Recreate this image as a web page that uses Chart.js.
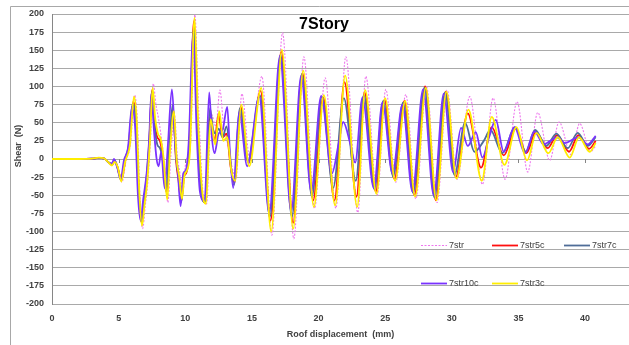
<!DOCTYPE html>
<html>
<head>
<meta charset="utf-8">
<script src="https://cdn.jsdelivr.net/npm/chart.js@4.4.1/dist/chart.umd.min.js"></script>
<style>
  html, body { margin: 0; padding: 0; background: #fff; }
  #wrap { position: relative; width: 629px; height: 345px; }
</style>
</head>
<body>
<div id="wrap"><canvas id="shear_chart" width="629" height="345"></canvas></div>
<script>
// series values, [roof displacement (mm), shear (N)]
const s7str = [[0,0],[1,0],[2,0],[3,0.5],[3.5,2],[3.9,1],[4.2,-4],[4.5,-9],[4.7,-4],[4.95,-12],[5.25,-32],[5.55,-3],[5.9,22],[6.2,88],[6.4,55],[6.6,-50],[6.8,-96],[7.0,-65],[7.2,-30],[7.4,30],[7.6,104],[7.8,75],[8.0,55],[8.2,30],[8.4,0],[8.7,-60],[8.9,0],[9.2,60],[9.4,5],[9.6,-20],[9.8,-50],[10.0,-10],[10.2,5],[10.4,20],[10.72,199],[11.0,70],[11.3,-40],[11.6,-62],[11.95,62],[12.3,45],[12.6,95],[12.9,40],[13.2,20],[13.5,-10],[13.8,-28],[14.25,90],[14.85,0],[15.75,114],[16.5,-105],[17.3,174],[18.15,-110],[18.9,141],[19.7,-68],[20.5,112],[21.3,-68],[22.05,141],[22.95,-74],[23.55,114],[24.4,-50],[25.05,96],[25.8,-32],[26.55,89],[27.3,-55],[28.1,100],[28.9,-60],[29.65,95],[30.4,-28],[31.35,86],[32.3,-35],[33.1,84],[34.0,-28],[34.9,79],[35.7,-18],[36.45,64],[37.35,-2],[38.05,51],[38.95,6],[39.6,49],[40.4,10],[40.8,18]];

const s7str5c = [[0,0],[1,0],[2,0],[3,0.5],[3.5,1.5],[3.9,1],[4.2,-4],[4.5,-8],[4.7,-3],[4.9,-10],[5.2,-29],[5.5,-2],[5.8,20],[6.1,79],[6.3,55],[6.5,-40],[6.7,-87],[6.9,-60],[7.1,-30],[7.3,20],[7.5,95],[7.7,50],[7.9,30],[8.1,25],[8.3,5],[8.6,-46],[8.8,10],[9.1,68],[9.3,0],[9.5,-30],[9.7,-58],[9.9,-25],[10.1,-18],[10.3,10],[10.65,190],[10.9,60],[11.2,-40],[11.5,-60],[11.85,58],[12.2,25],[12.5,62],[12.8,30],[13.1,35],[13.4,-10],[13.7,-33],[14.15,72],[14.75,-5],[15.65,94],[16.4,-85],[17.2,148],[18.1,-88],[18.8,118],[19.6,-57],[20.35,85],[21.2,-57],[21.95,106],[22.85,-52],[23.45,92],[24.3,-45],[24.95,82],[25.7,-28],[26.45,80],[27.2,-50],[28.0,100],[28.8,-57],[29.55,93],[30.3,-25],[31.2,63],[32.2,-12],[33.0,44],[33.9,5],[34.8,42],[35.6,8],[36.3,37],[37.2,15],[37.9,33],[38.8,10],[39.5,33],[40.3,14],[40.8,25]];

const s7str7c = [[0,0],[1,0],[2,0],[3,0.5],[3.5,1.5],[3.9,1],[4.2,-4],[4.5,-7],[4.7,-2],[4.9,-11],[5.2,-29],[5.45,-2],[5.75,18],[6.05,76],[6.3,48],[6.5,-45],[6.7,-86],[6.9,-58],[7.1,-25],[7.3,25],[7.5,93],[7.7,45],[7.9,20],[8.1,15],[8.3,0],[8.55,-44],[8.8,15],[9.05,75],[9.3,5],[9.5,-25],[9.7,-60],[9.9,-22],[10.1,-16],[10.3,12],[10.65,182],[10.9,50],[11.15,-42],[11.5,-60],[11.85,70],[12.1,40],[12.3,35],[12.5,42],[12.8,30],[13.1,45],[13.4,-5],[13.65,-36],[14.1,70],[14.7,-3],[15.6,88],[16.35,-80],[17.15,144],[18.0,-80],[18.75,117],[19.5,-52],[20.25,86],[21.1,-40],[21.9,84],[22.8,-30],[23.4,88],[24.2,-42],[24.85,80],[25.6,-24],[26.35,78],[27.1,-47],[27.95,98],[28.7,-53],[29.5,92],[30.2,-22],[31.0,50],[31.7,10],[32.4,25],[32.9,40],[33.8,8],[34.75,44],[35.55,10],[36.25,40],[37.1,18],[37.85,35],[38.7,15],[39.45,36],[40.2,18],[40.8,30]];

const s7str10c = [[0,0],[1,0],[2,0],[3,0.5],[3.5,1.5],[3.9,1],[4.2,-4],[4.5,-6],[4.65,0],[4.9,-12],[5.15,-28],[5.4,-2],[5.7,15],[6.0,72],[6.25,40],[6.45,-50],[6.65,-85],[6.85,-55],[7.1,-20],[7.3,30],[7.45,90],[7.65,40],[7.85,0],[8.0,-10],[8.2,10],[8.45,-40],[8.7,20],[9.0,96],[9.25,20],[9.45,-20],[9.65,-65],[9.85,-20],[10.05,-15],[10.25,20],[10.6,172],[10.85,40],[11.1,-45],[11.45,-58],[11.8,92],[12.0,30],[12.2,8],[12.5,35],[12.8,40],[13.15,72],[13.35,10],[13.6,-40],[14.05,65],[14.65,-10],[15.55,86],[16.3,-75],[17.1,142],[17.95,-72],[18.7,115],[19.45,-45],[20.2,87],[21.0,-20],[21.5,20],[21.85,51],[22.4,20],[22.75,-5],[23.3,85],[24.15,-40],[24.8,78],[25.55,-20],[26.3,75],[27.05,-45],[27.85,96],[28.65,-50],[29.4,90],[30.1,-18],[30.7,43],[31.2,18],[31.8,37],[32.3,2],[32.8,30],[33.3,54],[33.9,10],[34.7,44],[35.5,8],[36.2,38],[36.9,20],[37.4,25],[37.9,30],[38.5,22],[39.2,28],[39.5,30],[40.2,20],[40.8,32]];

const s7str3c = [[0,0],[1,0],[2,0],[3,0.5],[3.5,2],[3.9,1],[4.2,-4],[4.5,-9],[4.7,-4],[4.95,-12],[5.2,-31],[5.5,-3],[5.85,20],[6.15,86],[6.35,55],[6.55,-45],[6.75,-92],[6.95,-62],[7.15,-30],[7.35,25],[7.55,98],[7.75,55],[7.95,35],[8.15,28],[8.35,5],[8.65,-56],[8.85,10],[9.15,66],[9.35,0],[9.55,-25],[9.75,-55],[9.95,-22],[10.15,-15],[10.35,10],[10.7,195],[10.95,60],[11.25,-40],[11.55,-62],[11.9,55],[12.25,20],[12.55,66],[12.85,25],[13.15,30],[13.45,-15],[13.75,-30],[14.2,75],[14.8,-10],[15.7,98],[16.45,-100],[17.25,151],[18.1,-96],[18.85,122],[19.65,-66],[20.4,88],[21.25,-64],[22.0,115],[22.9,-66],[23.5,95],[24.35,-48],[25.0,84],[25.75,-30],[26.5,80],[27.25,-52],[28.05,98],[28.85,-57],[29.6,93],[30.35,-27],[31.25,68],[32.25,-30],[33.0,58],[33.95,-8],[34.85,44],[35.65,-2],[36.35,36],[37.25,8],[37.95,30],[38.85,2],[39.55,30],[40.35,10],[40.8,22]];

const seriesNames = ['7str', '7str5c', '7str7c', '7str10c', '7str3c'];
const seriesData = [s7str, s7str5c, s7str7c, s7str10c, s7str3c];
const seriesColors = ['#ee77ee', '#ff1010', '#4f6d98', '#7a33ff', '#ffee00'];

const fontFam = '"Liberation Sans", Arial, sans-serif';

// legend, title, frame and the little tick marks on the zero line
const decor = {
  id: 'decor',
  beforeDraw(chart) {
    const c = chart.ctx;
    c.save();
    c.strokeStyle = '#a8a8a8';
    c.lineWidth = 1;
    c.beginPath();
    c.moveTo(10.5, 345);
    c.lineTo(10.5, 6.5);
    c.lineTo(629, 6.5);
    c.stroke();
    c.restore();
  },
  afterDraw(chart) {
    const c = chart.ctx;
    const xs = chart.scales.x, ys = chart.scales.y;
    c.save();

    // tick marks hanging off the zero line
    const y0 = ys.getPixelForValue(0);
    c.strokeStyle = '#868686';
    c.lineWidth = 1;
    for (let v = 5; v <= 40; v += 5) {
      const px = Math.round(xs.getPixelForValue(v)) + 0.5;
      c.beginPath();
      c.moveTo(px, y0);
      c.lineTo(px, y0 + 4);
      c.stroke();
    }

    // title
    c.fillStyle = '#000';
    c.font = 'bold 16px ' + fontFam;
    c.textAlign = 'center';
    c.textBaseline = 'alphabetic';
    c.fillText('7Story', 324, 29);

    // y axis title
    c.fillStyle = '#404040';
    c.font = 'bold 9px ' + fontFam;
    c.translate(19, 146);
    c.rotate(-Math.PI / 2);
    c.textBaseline = 'middle';
    c.fillText('Shear  (N)', 0, 0);
    c.setTransform(1, 0, 0, 1, 0, 0);

    // legend
    const spots = [[421, 245], [492, 245], [564, 245], [421, 283], [492, 283]];
    c.font = '9px ' + fontFam;
    c.textAlign = 'left';
    c.textBaseline = 'middle';
    chart.data.datasets.forEach((ds, i) => {
      const [lx, ly] = spots[i];
      c.strokeStyle = ds.borderColor;
      c.lineWidth = i === 0 ? 1 : 1.8;
      c.setLineDash(ds.borderDash || []);
      c.beginPath();
      c.moveTo(lx, ly + 0.5);
      c.lineTo(lx + 26, ly + 0.5);
      c.stroke();
      c.setLineDash([]);
      c.fillStyle = '#404040';
      c.fillText(ds.label, lx + 28, ly + 1);
    });
    c.restore();
  }
};

const ctx = document.getElementById('shear_chart');

new Chart(ctx, {
  type: 'line',
  data: {
    datasets: seriesNames.map((name, i) => ({
      label: name,
      data: seriesData[i].map(p => ({ x: p[0], y: p[1] })),
      borderColor: seriesColors[i],
      borderWidth: i === 0 ? 1.1 : 1.8,
      borderDash: i === 0 ? [2, 1.5] : undefined,
      pointRadius: 0,
      cubicInterpolationMode: 'monotone',
      fill: false,
      order: seriesNames.length - i
    }))
  },
  options: {
    responsive: false,
    animation: false,
    events: [],
    layout: { padding: { left: 0, right: 0, top: 14, bottom: 0 } },
    plugins: {
      legend: { display: false },
      title: { display: false },
      tooltip: { enabled: false }
    },
    scales: {
      x: {
        type: 'linear',
        min: 0,
        max: 43.3,
        grid: { display: false, drawTicks: false },
        border: { display: false },
        ticks: {
          stepSize: 5,
          padding: 9,
          maxRotation: 0,
          color: '#404040',
          font: { family: fontFam, size: 9, weight: 'bold' }
        },
        afterBuildTicks: (scale) => {
          scale.ticks = scale.ticks.filter(t => t.value % 5 === 0);
        },
        title: {
          display: true,
          text: 'Roof displacement  (mm)',
          color: '#404040',
          font: { family: fontFam, size: 9, weight: 'bold' },
          padding: { top: 0, bottom: 5 }
        },
        afterFit: (scale) => { scale.height = 41; }
      },
      y: {
        min: -200,
        max: 200,
        grid: { color: '#a9a9a9', lineWidth: 1, drawTicks: false },
        border: { display: true, color: '#868686' },
        ticks: {
          stepSize: 25,
          padding: 8,
          color: '#404040',
          font: { family: fontFam, size: 9, weight: 'bold' }
        },
        afterFit: (scale) => { scale.width = 52; }
      }
    }
  },
  plugins: [decor]
});
</script>
</body>
</html>
